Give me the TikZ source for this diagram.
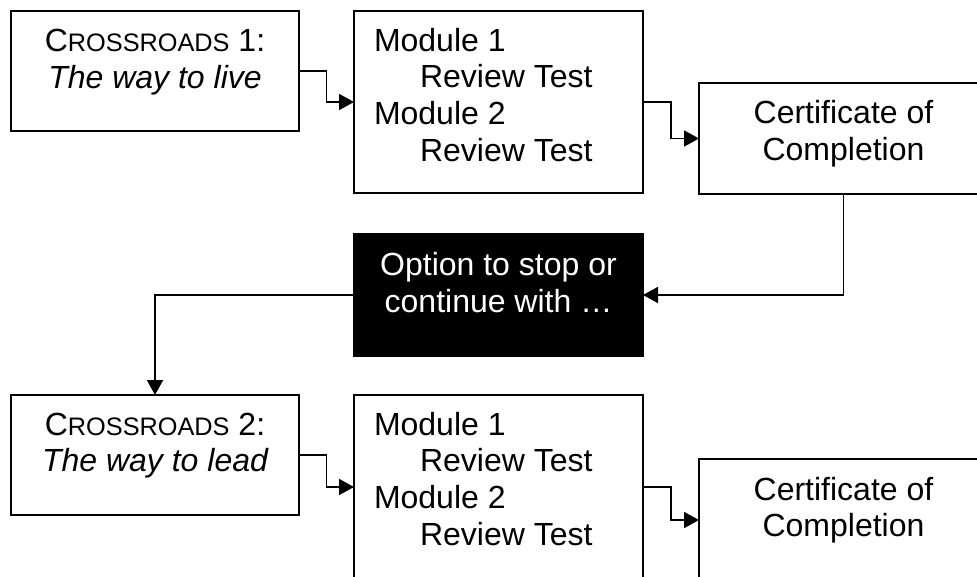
\documentclass[tikz,border=0pt]{standalone}
\usepackage{fontspec}
\setmainfont{Liberation Sans}
\usetikzlibrary{arrows.meta,calc}
\newcommand{\smc}[1]{{\fontsize{25.3}{30}\selectfont #1}}
\begin{document}
\begin{tikzpicture}[x=1pt,y=-1pt,
  every node/.style={font=\fontsize{32}{36.7}\selectfont, inner sep=0pt, outer sep=0pt},
  box/.style={draw=black, line width=1.8pt, fill=white, anchor=north west},
  blackbox/.style={draw=black, line width=1.8pt, fill=black, anchor=north west},
  txt/.style={anchor=base, text=black},
  txtl/.style={anchor=base west, text=black},
  wtxt/.style={anchor=base, text=white},
  conn/.style={draw=black, line width=1.7pt, -{Triangle[length=15pt,width=16pt]}}
]
\useasboundingbox (0,0) rectangle (977,576);
\clip (0,0) rectangle (977,576);

% boxes
\node[box, minimum width=288pt, minimum height=120pt] (A) at (11,11) {};
\node[box, minimum width=289pt, minimum height=182pt] (B) at (354,11) {};
\node[box, minimum width=289pt, minimum height=111pt] (C) at (699,83) {};
\node[blackbox, minimum width=289pt, minimum height=122pt] (K) at (354,234) {};
\node[box, minimum width=288pt, minimum height=120pt] (D) at (11,395) {};
\node[box, minimum width=289pt, minimum height=184pt] (E) at (354,395) {};
\node[box, minimum width=289pt, minimum height=122pt] (F) at (699,459) {};

% texts box A
\node[txt] (A1) at (155,51.7) {C\smc{ROSSROADS} 1:};
\node[txt] (A2) at (155,88.4) {\itshape The way to live};
% texts box B
\node[txtl] (B1) at (374,51.2) {Module 1};
\node[txtl] (B2) at (420,87.9) {Review Test};
\node[txtl] (B3) at (374,124.6) {Module 2};
\node[txtl] (B4) at (420,161.3) {Review Test};
% texts box C
\node[txt] (C1) at (843.5,123.3) {Certificate of};
\node[txt] (C2) at (843.5,160.0) {Completion};
% texts black box
\node[wtxt] (K1) at (498.5,275) {Option to stop or};
\node[wtxt] (K2) at (498.5,312.5) {continue with …};
% texts box D
\node[txt] (D1) at (155,435) {C\smc{ROSSROADS} 2:};
\node[txt] (D2) at (155,471.7) {\itshape The way to lead};
% texts box E
\node[txtl] (E1) at (374,435) {Module 1};
\node[txtl] (E2) at (420,471.7) {Review Test};
\node[txtl] (E3) at (374,508.4) {Module 2};
\node[txtl] (E4) at (420,545.1) {Review Test};
% texts box F
\node[txt] (F1) at (843.5,500) {Certificate of};
\node[txt] (F2) at (843.5,536.7) {Completion};

% connectors
\coordinate (mAB) at ($(A.east)!0.5!(B.west)$);
\draw[conn] (A.east) -| (mAB) |- (B.west);
\coordinate (mBC) at ($(B.east)!0.5!(C.west)$);
\draw[conn] (B.east) -| (mBC) |- (C.west);
\draw[conn] (C.south) |- (K.east);
\draw[conn] (K.west) -| (D.north);
\coordinate (mDE) at ($(D.east)!0.5!(E.west)$);
\draw[conn] (D.east) -| (mDE) |- (E.west);
\coordinate (mEF) at ($(E.east)!0.5!(F.west)$);
\draw[conn] (E.east) -| (mEF) |- (F.west);
\end{tikzpicture}
\end{document}
